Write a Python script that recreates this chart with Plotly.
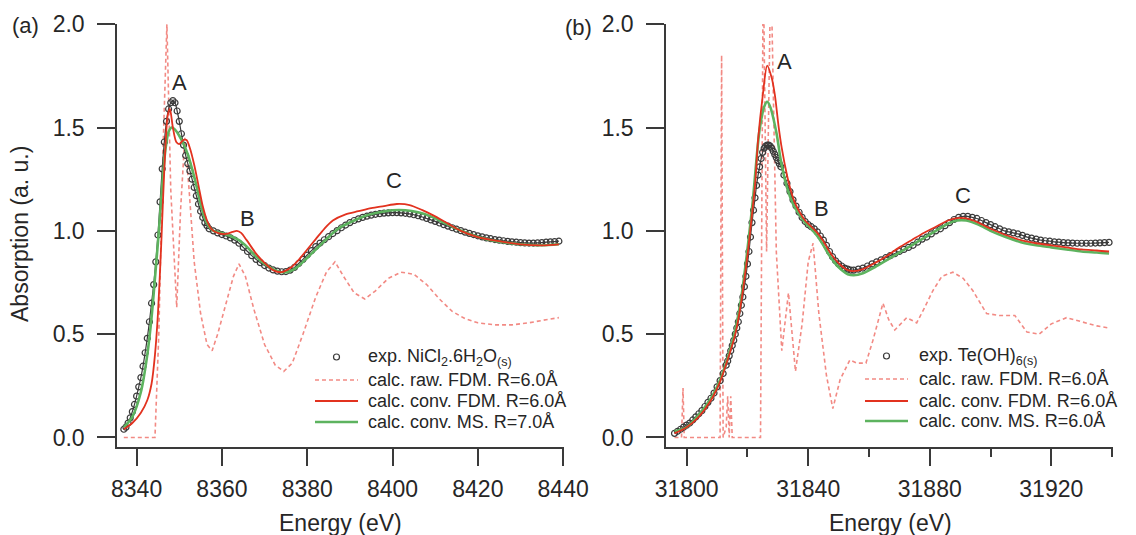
import plotly.graph_objects as go

W, H = 1136, 535

# ---------------- panel (a) : NiCl2.6H2O ----------------
a_exp_E = [8337.0, 8337.5, 8338.0, 8338.5, 8339.0, 8339.5, 8340.0, 8340.5, 8341.0, 8341.5,
           8342.0, 8342.5, 8343.0, 8343.5, 8344.0, 8344.5, 8345.0, 8345.5, 8346.0, 8346.5,
           8347.0, 8347.5, 8348.0, 8348.5, 8349.0, 8349.5, 8350.0, 8350.5, 8351.0, 8351.5,
           8352.0, 8352.5, 8353.0, 8353.5, 8354.0, 8354.5, 8355.0, 8355.5, 8356.0, 8356.5,
           8357.0, 8358, 8359, 8360, 8361, 8362, 8363, 8364, 8365, 8366, 8367, 8368, 8369,
           8370, 8371, 8372, 8373, 8374, 8375, 8376, 8377, 8378, 8379, 8380, 8381, 8382,
           8383, 8384, 8385, 8386, 8387, 8388, 8389, 8390, 8391, 8392, 8393, 8394, 8395,
           8396, 8397, 8398, 8399, 8400, 8401, 8402, 8403, 8404, 8405, 8406, 8407, 8408,
           8409, 8410, 8411, 8412, 8413, 8414, 8415, 8416, 8417, 8418, 8419, 8420, 8421,
           8422, 8423, 8424, 8425, 8426, 8427, 8428, 8429, 8430, 8431, 8432, 8433, 8434,
           8435, 8436, 8437, 8438, 8439]
a_exp_A = [0.040, 0.050, 0.070, 0.095, 0.125, 0.160, 0.200, 0.245, 0.290, 0.345,
           0.410, 0.480, 0.560, 0.650, 0.740, 0.850, 0.980, 1.140, 1.300, 1.430,
           1.530, 1.590, 1.620, 1.630, 1.620, 1.580, 1.530, 1.470, 1.415, 1.365,
           1.325, 1.290, 1.250, 1.210, 1.170, 1.130, 1.095, 1.065, 1.040, 1.025,
           1.010, 1.000, 0.990, 0.982, 0.975, 0.966, 0.955, 0.940, 0.920, 0.900, 0.880, 0.862, 0.846,
           0.832, 0.820, 0.811, 0.805, 0.802, 0.803, 0.810, 0.823, 0.842, 0.862, 0.883, 0.904, 0.924,
           0.941, 0.957, 0.972, 0.987, 1.001, 1.015, 1.028, 1.040, 1.050, 1.058, 1.065, 1.071, 1.076,
           1.080, 1.083, 1.086, 1.087, 1.088, 1.088, 1.087, 1.085, 1.082, 1.078, 1.073, 1.067, 1.060,
           1.053, 1.046, 1.038, 1.030, 1.023, 1.015, 1.008, 1.001, 0.994, 0.988, 0.982, 0.976, 0.971,
           0.966, 0.962, 0.958, 0.955, 0.952, 0.949, 0.947, 0.945, 0.943, 0.942, 0.941, 0.941, 0.942,
           0.943, 0.945, 0.947, 0.948, 0.950]

a_raw_E = [8337, 8344.3, 8345.2, 8346.2, 8347.1, 8348.0, 8349.4, 8350.3, 8351.3, 8352.3,
           8353.5, 8355, 8356.5, 8357.7, 8359, 8361, 8362.7, 8364, 8365.5, 8367.5, 8370,
           8372.5, 8374.5, 8376.5, 8379, 8382, 8384.5, 8386.5, 8388.5, 8391, 8393.5, 8396,
           8399, 8402, 8405, 8408, 8411, 8414, 8417, 8420, 8424, 8428, 8432, 8436, 8439]
a_raw_A = [0.0, 0.0, 0.5, 1.4, 2.0, 1.2, 0.63, 1.1, 1.45, 1.2,
           0.85, 0.6, 0.45, 0.42, 0.5, 0.65, 0.78, 0.84, 0.78, 0.62, 0.45,
           0.35, 0.32, 0.36, 0.5, 0.68, 0.80, 0.85, 0.78, 0.70, 0.67, 0.71,
           0.77, 0.80, 0.79, 0.74, 0.67, 0.61, 0.575, 0.555, 0.545, 0.545, 0.555, 0.57, 0.58]

a_fdm_E = [8337, 8339, 8341, 8342.5, 8343.5, 8344.3, 8345, 8345.8, 8346.5, 8347.3, 8347.8,
           8348.5, 8349.3, 8350, 8351, 8351.7, 8352.5, 8353.5, 8354.5, 8355.5, 8356.5, 8357.5,
           8359, 8361, 8362.5, 8363.5, 8364.5, 8365.8, 8368, 8370, 8372, 8374, 8376, 8378,
           8380, 8382, 8384, 8386, 8389, 8392, 8395, 8398, 8401, 8404, 8407, 8410, 8413,
           8416, 8420, 8425, 8430, 8435, 8439]
a_fdm_A = [0.04, 0.07, 0.12, 0.18, 0.26, 0.40, 0.60, 0.95, 1.30, 1.56, 1.59,
           1.50, 1.43, 1.42, 1.44, 1.44, 1.40, 1.32, 1.22, 1.12, 1.05, 1.01,
           0.99, 0.985, 0.995, 1.0, 0.99, 0.955, 0.89, 0.845, 0.81, 0.80, 0.82, 0.86,
           0.91, 0.96, 1.01, 1.05, 1.08, 1.095, 1.11, 1.12, 1.13, 1.125, 1.10, 1.07, 1.035,
           1.0, 0.97, 0.95, 0.935, 0.93, 0.935]

a_ms_E = [8337, 8339, 8341, 8342.5, 8343.5, 8344.5, 8345.3, 8346, 8346.8, 8347.5, 8348.2,
          8349, 8350, 8351, 8352, 8353, 8354, 8355, 8356, 8357, 8358, 8360, 8362, 8364,
          8366, 8368, 8370, 8372, 8374, 8376, 8378, 8380, 8382, 8384, 8386, 8388, 8391,
          8394, 8397, 8400, 8403, 8406, 8409, 8412, 8415, 8418, 8422, 8426, 8430, 8435, 8439]
a_ms_A = [0.05, 0.10, 0.22, 0.40, 0.58, 0.82, 1.02, 1.22, 1.40, 1.48, 1.50,
          1.49, 1.46, 1.42, 1.37, 1.30, 1.22, 1.13, 1.06, 1.02, 1.0, 0.99, 0.975, 0.955,
          0.92, 0.875, 0.84, 0.815, 0.80, 0.805, 0.83, 0.87, 0.91, 0.95, 0.99, 1.02, 1.05,
          1.075, 1.09, 1.10, 1.10, 1.09, 1.07, 1.04, 1.01, 0.985, 0.96, 0.945, 0.935, 0.93, 0.935]

# ---------------- panel (b) : Te(OH)6 ----------------
b_exp_E = [31796, 31797, 31798, 31799, 31800, 31801, 31802, 31803, 31804, 31805, 31806,
           31807, 31808, 31809, 31810, 31811, 31812, 31813, 31813.5, 31814, 31814.5, 31815,
           31815.5, 31816, 31816.5, 31817, 31817.5, 31818, 31818.5, 31819, 31819.5, 31820,
           31820.5, 31821, 31821.5, 31822, 31822.5, 31823, 31823.5, 31824, 31824.5, 31825,
           31825.5, 31826, 31826.5, 31827, 31827.5, 31828, 31828.5, 31829, 31829.5, 31830,
           31830.5, 31831, 31832, 31833, 31834, 31835, 31836, 31837, 31838, 31839, 31840,
           31841, 31842, 31843, 31844, 31845, 31846, 31847, 31848, 31849, 31850, 31851,
           31852, 31853, 31854, 31855, 31856.5, 31858, 31859.5, 31861, 31862.5, 31864,
           31865.5, 31867, 31868.5, 31870, 31871.5, 31873, 31874.5, 31876, 31877.5, 31879,
           31880.5, 31882, 31883.5, 31885, 31886.5, 31888, 31889.5, 31891, 31892.5, 31894,
           31895.5, 31897, 31898.5, 31900, 31901.5, 31903, 31904.5, 31906, 31907.5, 31909,
           31910.5, 31912, 31913.5, 31915, 31916.5, 31918, 31919.5, 31921, 31922.5, 31924,
           31925.5, 31927, 31928.5, 31930, 31931.5, 31933, 31934.5, 31936, 31937.5, 31939]
b_exp_A = [0.02, 0.03, 0.04, 0.05, 0.06, 0.07, 0.085, 0.10, 0.115, 0.13, 0.15,
           0.17, 0.19, 0.215, 0.245, 0.275, 0.31, 0.35, 0.37, 0.395, 0.42, 0.445,
           0.47, 0.50, 0.53, 0.56, 0.60, 0.64, 0.68, 0.73, 0.78, 0.84,
           0.90, 0.97, 1.04, 1.10, 1.16, 1.22, 1.27, 1.31, 1.35, 1.38,
           1.40, 1.41, 1.415, 1.415, 1.41, 1.40, 1.385, 1.37, 1.355, 1.34,
           1.325, 1.31, 1.27, 1.23, 1.19, 1.15, 1.12, 1.09, 1.065, 1.045, 1.03,
           1.02, 1.01, 0.995, 0.975, 0.955, 0.93, 0.90, 0.875, 0.855, 0.84, 0.83,
           0.82, 0.815, 0.81, 0.81, 0.815, 0.82, 0.83, 0.84, 0.85, 0.86,
           0.87, 0.88, 0.89, 0.90, 0.91, 0.92, 0.93, 0.945, 0.96, 0.97,
           0.985, 1.0, 1.01, 1.025, 1.04, 1.055, 1.065, 1.07, 1.07, 1.065,
           1.06, 1.05, 1.04, 1.03, 1.02, 1.01, 1.0, 0.995, 0.99, 0.985,
           0.978, 0.97, 0.965, 0.96, 0.955, 0.952, 0.95, 0.947, 0.945, 0.943,
           0.942, 0.941, 0.94, 0.94, 0.94, 0.94, 0.941, 0.942, 0.943, 0.944]

b_raw_E = [31796, 31798.3, 31798.8, 31799.2, 31811, 31811.5, 31812, 31813, 31813.5, 31814,
           31814.5, 31815, 31824.3, 31825.2, 31826.3, 31827.7, 31829.5, 31831.3, 31833.5,
           31835.8, 31838, 31840, 31841.6, 31843.5, 31846, 31848.1, 31850.5, 31853.7, 31856,
           31859, 31861.3, 31864.6, 31866.5, 31868.5, 31872.4, 31875.7, 31878, 31881, 31884,
           31887.6, 31891, 31894.2, 31898.7, 31903, 31908, 31912, 31916, 31920, 31925, 31930,
           31935, 31939]
b_raw_A = [0.0, 0.0, 0.24, 0.0, 0.0, 1.85, 0.0, 0.05, 0.2, 0.0,
           0.2, 0.0, 0.0, 2.3, 0.9, 2.3, 0.9, 0.42, 0.70,
           0.32, 0.55, 0.85, 0.94, 0.6, 0.3, 0.14, 0.28, 0.375, 0.36,
           0.36, 0.47, 0.65, 0.57, 0.52, 0.58, 0.555, 0.62, 0.71, 0.78,
           0.80, 0.77, 0.71, 0.60, 0.59, 0.59, 0.51, 0.50, 0.55, 0.58, 0.56,
           0.54, 0.53]

b_fdm_E = [31796, 31800, 31804, 31808, 31811, 31814, 31816, 31818, 31820, 31821.5, 31822.5,
           31823.5, 31825, 31826.5, 31828, 31829, 31830.3, 31831.3, 31833, 31834, 31835.5,
           31837.2, 31839, 31841, 31843, 31845, 31847, 31849, 31851, 31853, 31855, 31858,
           31862, 31866, 31870, 31874, 31878, 31882, 31886, 31889, 31892, 31896, 31900,
           31905, 31910, 31915, 31920, 31925, 31930, 31935, 31939]
b_fdm_A = [0.02, 0.05, 0.10, 0.18, 0.27, 0.40, 0.50, 0.66, 0.88, 1.08, 1.22,
           1.44, 1.65, 1.80, 1.74, 1.66, 1.50, 1.40, 1.27, 1.21, 1.14,
           1.09, 1.05, 1.02, 0.99, 0.95, 0.90, 0.86, 0.83, 0.81, 0.805, 0.815,
           0.845, 0.88, 0.92, 0.955, 0.99, 1.02, 1.05, 1.062, 1.06, 1.04, 1.01,
           0.98, 0.955, 0.94, 0.93, 0.92, 0.91, 0.905, 0.90]

b_ms_E = [31796, 31800, 31804, 31808, 31811, 31814, 31816, 31818, 31820, 31821.8, 31823,
          31824, 31825.5, 31826.5, 31827.5, 31829.6, 31831, 31833, 31835, 31837, 31839,
          31841, 31843, 31845, 31847, 31849, 31851, 31853, 31855, 31858, 31862, 31866,
          31870, 31874, 31878, 31882, 31886, 31889, 31892, 31896, 31900, 31905, 31910,
          31915, 31920, 31925, 31930, 31935, 31939]
b_ms_A = [0.03, 0.05, 0.11, 0.19, 0.28, 0.41, 0.52, 0.68, 0.91, 1.15, 1.35,
          1.49, 1.60, 1.625, 1.60, 1.47, 1.34, 1.21, 1.13, 1.08, 1.04,
          1.01, 0.975, 0.93, 0.88, 0.84, 0.81, 0.79, 0.785, 0.795, 0.825, 0.86,
          0.895, 0.93, 0.965, 1.0, 1.035, 1.05, 1.05, 1.03, 1.0, 0.97, 0.945,
          0.93, 0.92, 0.91, 0.90, 0.895, 0.89]

x_ticks_a = [8340, 8360, 8380, 8400, 8420, 8440]
x_tick_text_a = ["8340", "8360", "8380", "8400", "8420", "8440"]
x_ticks_b = [31800, 31840, 31880, 31920]
x_tick_text_b = ["31800", "31840", "31880", "31920"]
y_ticks = [0.0, 0.5, 1.0, 1.5, 2.0]
y_tick_text = ["0.0", "0.5", "1.0", "1.5", "2.0"]

legend_a = ["exp. NiCl<sub>2</sub>.6H<sub>2</sub>O<sub>(s)</sub>", "calc. raw. FDM. R=6.0Å",
            "calc. conv. FDM. R=6.0Å", "calc. conv. MS. R=7.0Å"]
legend_b = ["exp. Te(OH)<sub>6(s)</sub>", "calc. raw. FDM. R=6.0Å",
            "calc. conv. FDM. R=6.0Å", "calc. conv. MS. R=6.0Å"]

# ---------------- styles ----------------
FONT = "Liberation Sans, Arial, Helvetica, sans-serif"
TXT = "#262626"
AX = "#3a3a3a"
C_EXP = "#3a3a3a"
C_RAW = "#f28a84"
C_FDM = "#e2321f"
C_MS = "#5db35f"

fig = go.Figure()

def add_panel(xa, ya, exp_E, exp_A, raw_E, raw_A, fdm_E, fdm_A, ms_E, ms_A):
    fig.add_trace(go.Scatter(x=raw_E, y=raw_A, mode="lines", xaxis=xa, yaxis=ya,
                             line=dict(color=C_RAW, width=1.6, dash="4px,3px"), showlegend=False))
    fig.add_trace(go.Scatter(x=exp_E, y=exp_A, mode="lines+markers", xaxis=xa, yaxis=ya,
                             line=dict(color=C_EXP, width=1.2, shape="spline"),
                             marker=dict(symbol="circle-open", size=6, color=C_EXP,
                                         line=dict(width=1.2, color=C_EXP)),
                             showlegend=False))
    fig.add_trace(go.Scatter(x=ms_E, y=ms_A, mode="lines", xaxis=xa, yaxis=ya,
                             line=dict(color=C_MS, width=2.6, shape="spline", smoothing=0.8),
                             showlegend=False))
    fig.add_trace(go.Scatter(x=fdm_E, y=fdm_A, mode="lines", xaxis=xa, yaxis=ya,
                             line=dict(color=C_FDM, width=1.8, shape="spline", smoothing=0.8),
                             showlegend=False))

add_panel("x", "y", a_exp_E, a_exp_A, a_raw_E, a_raw_A, a_fdm_E, a_fdm_A, a_ms_E, a_ms_A)
add_panel("x2", "y2", b_exp_E, b_exp_A, b_raw_E, b_raw_A, b_fdm_E, b_fdm_A, b_ms_E, b_ms_A)

def px(x):
    return x / W

def py(y):
    return 1 - y / H

ydom = [py(447), py(24)]
common_x = dict(showline=True, linecolor=AX, linewidth=1.5, showgrid=False, zeroline=False,
                automargin=False, mirror=False,
                ticks="outside", ticklen=17, tickwidth=1.5, tickcolor=AX,
                tickfont=dict(family=FONT, size=23, color=TXT), ticklabelstandoff=4)
common_y = dict(showline=True, linecolor=AX, linewidth=1.5, showgrid=False, zeroline=False,
                automargin=False, mirror=False,
                ticks="outside", ticklen=18, tickwidth=1.5, tickcolor=AX,
                tickfont=dict(family=FONT, size=23, color=TXT), ticklabelstandoff=8,
                tickvals=y_ticks, ticktext=y_tick_text, range=[-0.046, 2.001], domain=ydom)

fig.update_layout(
    template="none",
    width=W, height=H, margin=dict(l=0, r=0, t=0, b=0, pad=0, autoexpand=False),
    paper_bgcolor="white", plot_bgcolor="white", showlegend=False,
    xaxis=dict(common_x, domain=[px(117), px(564)], range=[8335.4, 8440.2],
               tickvals=x_ticks_a, ticktext=x_tick_text_a, anchor="y"),
    xaxis2=dict(common_x, domain=[px(666), px(1113)], range=[31793.2, 31940.3],
                tickvals=x_ticks_b, ticktext=x_tick_text_b, anchor="y2",
                minor=dict(tickvals=[31820, 31860, 31900, 31940], ticks="outside",
                           ticklen=8, tickwidth=1.5, tickcolor=AX)),
    yaxis=dict(common_y, anchor="x"),
    yaxis2=dict(common_y, anchor="x2"),
)

ann = []
def text(x, y, s, size=23, **kw):
    d = dict(x=x, y=y, text=s, showarrow=False, xanchor="center", yanchor="middle",
             font=dict(family=FONT, size=size, color=TXT))
    d.update(kw)
    ann.append(d)

# panel labels and axis titles
text(px(25), py(25), "(a)", 22, xref="paper", yref="paper")
text(px(578), py(27), "(b)", 22, xref="paper", yref="paper")
text(px(20), py(234), "Absorption (a. u.)", 23, xref="paper", yref="paper", textangle=-90)
text(px(340), py(523), "Energy (eV)", 23, xref="paper", yref="paper")
text(px(890), py(523), "Energy (eV)", 23, xref="paper", yref="paper")

# peak labels
text(8350.1, 1.72, "A", 22, xref="x", yref="y")
text(8366.1, 1.06, "B", 22, xref="x", yref="y")
text(8400.4, 1.245, "C", 22, xref="x", yref="y")
text(31832.3, 1.82, "A", 22, xref="x2", yref="y2")
text(31844.5, 1.11, "B", 22, xref="x2", yref="y2")
text(31890.9, 1.17, "C", 22, xref="x2", yref="y2")

# legends (annotation text + sample shapes)
shapes = []
def legend(x_line0, x_line1, x_text, rows, labels):
    for i, (yy, lab) in enumerate(zip(rows, labels)):
        text(px(x_text), py(yy), lab, 18, xref="paper", yref="paper",
             xanchor="left", yanchor="middle")
        if i == 0:
            xc = (x_line0 + x_line1) / 2
            shapes.append(dict(type="circle", xref="paper", yref="paper",
                               xsizemode="pixel", ysizemode="pixel",
                               xanchor=px(xc), yanchor=py(yy), x0=-3, x1=3, y0=-3, y1=3,
                               line=dict(color=C_EXP, width=1.2)))
        else:
            style = [None, dict(color=C_RAW, width=1.6, dash="4px,3px"),
                     dict(color=C_FDM, width=2), dict(color=C_MS, width=2.6)][i]
            shapes.append(dict(type="line", xref="paper", yref="paper",
                               x0=px(x_line0), x1=px(x_line1), y0=py(yy), y1=py(yy),
                               line=style))

legend(315, 358, 366, [357, 380, 401, 422], legend_a)
legend(865, 908, 917, [356, 379, 401, 421], legend_b)

fig.update_layout(annotations=ann, shapes=shapes)
fig.write_html("out.html")
